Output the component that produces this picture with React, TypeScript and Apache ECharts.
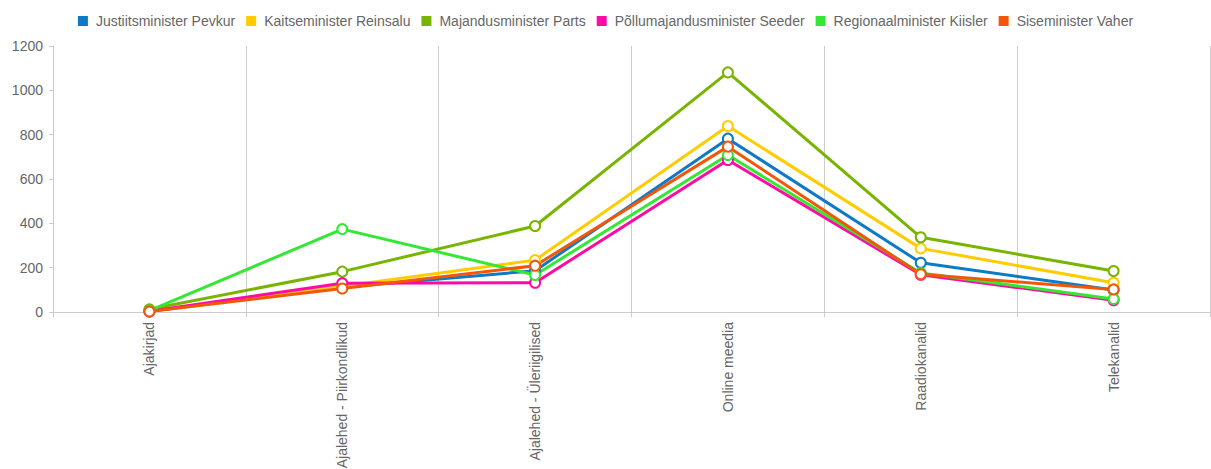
import React, { useEffect, useRef } from "react";
import * as echarts from "echarts";

const categories = [
  "Ajakirjad",
  "Ajalehed - Piirkondlikud",
  "Ajalehed - Üleriigilised",
  "Online meedia",
  "Raadiokanalid",
  "Telekanalid",
];

const seriesNames = [
  "Justiitsminister Pevkur",
  "Kaitseminister Reinsalu",
  "Majandusminister Parts",
  "Põllumajandusminister Seeder",
  "Regionaalminister Kiisler",
  "Siseminister Vaher",
];

const pevkur = [3, 112, 186, 782, 222, 99];
const reinsalu = [4, 116, 234, 839, 287, 132];
const parts = [12, 182, 388, 1081, 337, 185];
const seeder = [3, 130, 132, 686, 168, 53];
const kiisler = [6, 374, 167, 708, 176, 59];
const vaher = [2, 106, 209, 746, 170, 102];

const seriesValues = [pevkur, reinsalu, parts, seeder, kiisler, vaher];
const colors = ["#0D7AC6", "#FFCC00", "#78B500", "#FF0AA5", "#33E833", "#F25709"];

const yTicks = { min: 0, max: 1200, interval: 200 };

export default function App() {
  const ref = useRef<HTMLDivElement>(null);
  useEffect(() => {
    if (!ref.current) return;
    const chart = echarts.init(ref.current, undefined, { renderer: "svg" });
    chart.setOption({
      animation: false,
      color: colors,
      textStyle: { fontFamily: "Liberation Sans, Arial, sans-serif" },
      legend: {
        top: 9,
        left: "center",
        itemWidth: 10,
        itemHeight: 10,
        itemGap: 11,
        icon: "rect",
        textStyle: { color: "#666", fontSize: 14, padding: [0, 0, 0, 3] },
        data: seriesNames.map((name, i) => ({
          name,
          itemStyle: { color: colors[i], borderWidth: 0 },
        })),
      },
      grid: {
        left: 53,
        right: 1,
        top: 46,
        bottom: 157,
        containLabel: false,
        outerBoundsMode: "none",
      },
      xAxis: {
        type: "category",
        data: categories,
        boundaryGap: true,
        axisLine: { lineStyle: { color: "#ccc" } },
        axisTick: { show: true, length: 5, lineStyle: { color: "#ccc" } },
        splitLine: { show: true, lineStyle: { color: "#ccc" } },
        axisLabel: { rotate: 90, color: "#666", fontSize: 14, margin: 10, interval: 0 },
      },
      yAxis: {
        type: "value",
        min: yTicks.min,
        max: yTicks.max,
        interval: yTicks.interval,
        axisLine: { show: true, lineStyle: { color: "#ccc" } },
        axisTick: { show: true, length: 4, lineStyle: { color: "#ccc" } },
        splitLine: { show: false },
        axisLabel: { color: "#666", fontSize: 14, margin: 10, formatter: (v: number) => String(v) },
      },
      series: seriesNames.map((name, i) => ({
        name,
        type: "line",
        data: seriesValues[i],
        symbol: "circle",
        symbolSize: 10,
        lineStyle: { width: 3, color: colors[i] },
        itemStyle: { color: "#fff", borderColor: colors[i], borderWidth: 2 },
      })),
    });
    return () => chart.dispose();
  }, []);
  return (
    <div
      ref={ref}
      style={{ position: "absolute", left: 0, top: 0, width: 1211, height: 469, background: "#fff" }}
    />
  );
}
